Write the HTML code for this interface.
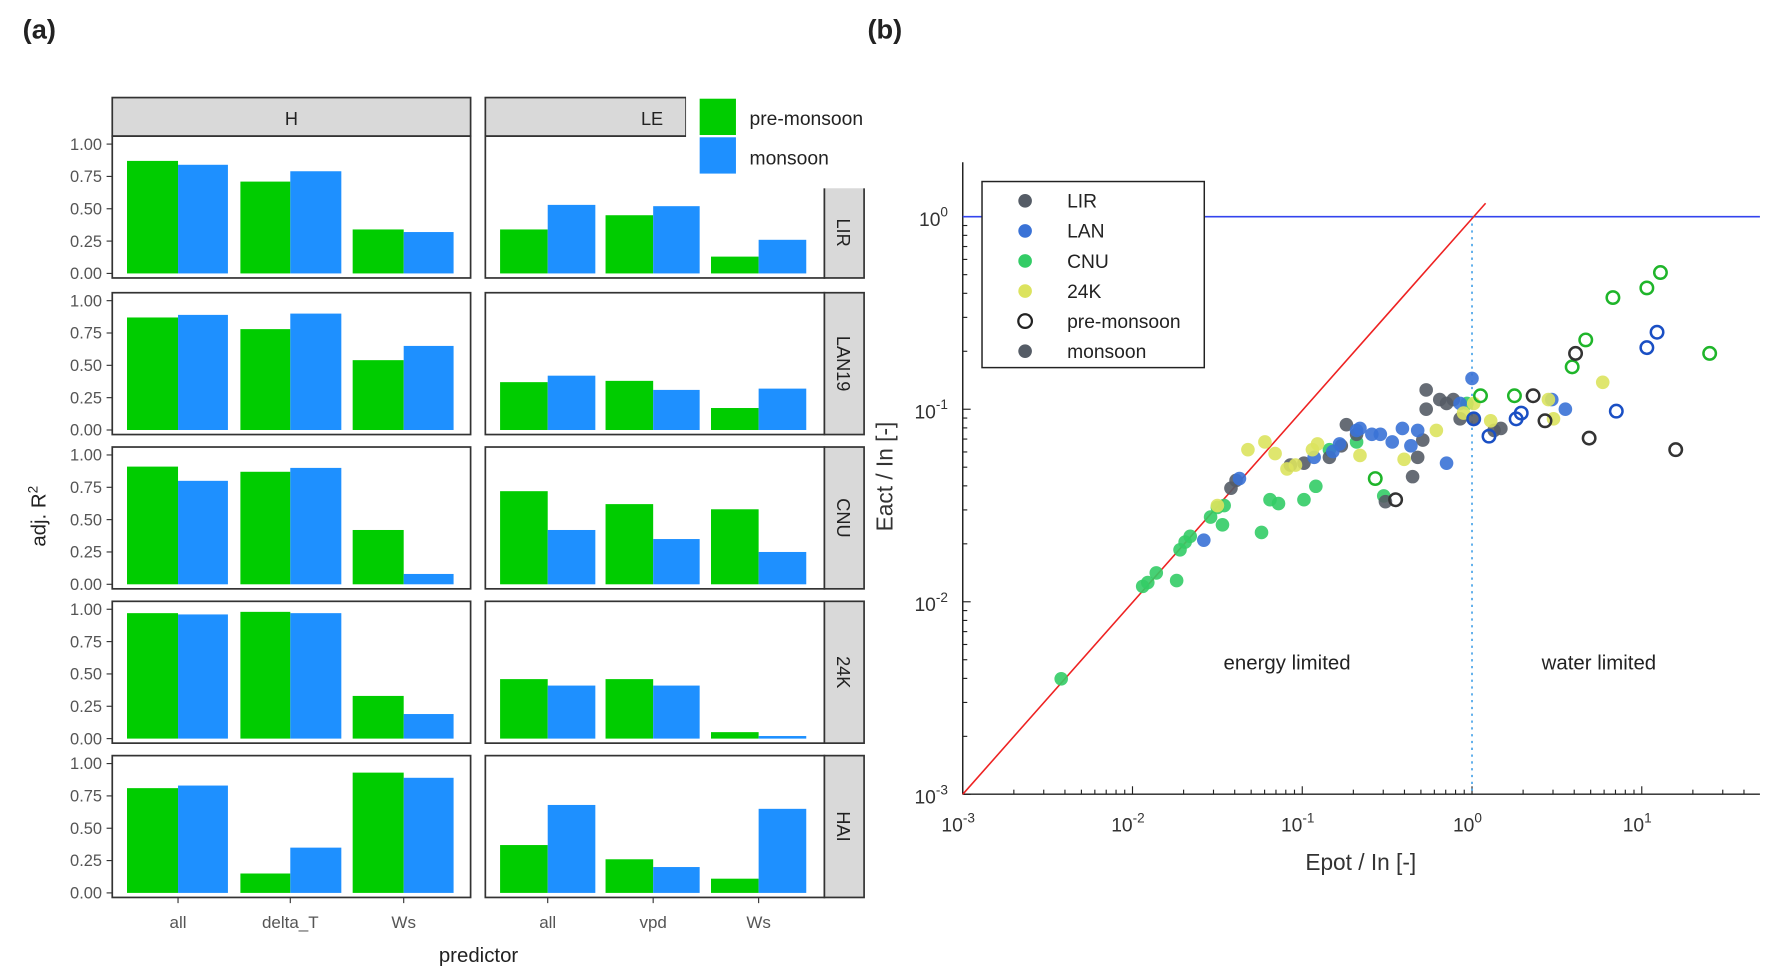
<!DOCTYPE html>
<html><head><meta charset="utf-8"><style>
html,body{margin:0;padding:0;background:#fff;}
svg{display:block;font-family:"Liberation Sans",sans-serif;}
</style></head><body>
<svg id="fig" width="1769" height="978" viewBox="0 0 1560 862" preserveAspectRatio="none" xmlns="http://www.w3.org/2000/svg">
<text x="20" y="34" font-size="24" font-weight="bold" fill="#222">(a)</text>
<text x="765" y="34" font-size="24" font-weight="bold" fill="#222">(b)</text>
<g id="pa"></g>
<g id="pb"></g>
</svg>
<script>
// ---------- Panel (a) data ----------
const sites = ["LIR","LAN19","CNU","24K","HAI"];
const hPredictors = ["all","delta_T","Ws"];
const lePredictors = ["all","vpd","Ws"];
const yTicks = ["0.00","0.25","0.50","0.75","1.00"];
const hPre = [[0.87,0.71,0.34],[0.87,0.78,0.54],[0.91,0.87,0.42],[0.97,0.98,0.33],[0.81,0.15,0.93]];
const hMon = [[0.84,0.79,0.32],[0.89,0.90,0.65],[0.80,0.90,0.08],[0.96,0.97,0.19],[0.83,0.35,0.89]];
const lePre = [[0.34,0.45,0.13],[0.37,0.38,0.17],[0.72,0.62,0.58],[0.46,0.46,0.05],[0.37,0.26,0.11]];
const leMon = [[0.53,0.52,0.26],[0.42,0.31,0.32],[0.42,0.35,0.25],[0.41,0.41,0.02],[0.68,0.20,0.65]];

// ---------- Panel (b) data (log10 values) ----------
const lirX = [-1.42,-1.39,-1.07,-0.99,-0.84,-0.77,-0.68,-0.74,-0.35,-0.32,-0.29,-0.27,-0.27,-0.19,-0.15,-0.11,-0.07,0.01,-0.51,0.13,0.17];
const lirY = [-1.41,-1.37,-1.29,-1.28,-1.25,-1.19,-1.13,-1.08,-1.35,-1.25,-1.16,-1.00,-0.90,-0.95,-0.97,-0.95,-1.05,-1.05,-1.48,-1.11,-1.10];
const lanX = [-1.58,-1.37,-0.93,-0.82,-0.78,-0.68,-0.66,-0.59,-0.54,-0.47,-0.41,-0.36,-0.32,-0.15,-0.07,0.00,0.47,0.55];
const lanY = [-1.68,-1.36,-1.25,-1.22,-1.18,-1.11,-1.10,-1.13,-1.13,-1.17,-1.10,-1.19,-1.11,-1.28,-0.97,-0.84,-0.95,-1.00];
const cnuX = [-2.42,-1.94,-1.91,-1.86,-1.74,-1.72,-1.69,-1.66,-1.54,-1.50,-1.47,-1.46,-1.24,-1.19,-1.14,-0.99,-0.92,-0.84,-0.68,-0.03,-0.52];
const cnuY = [-2.40,-1.92,-1.90,-1.85,-1.89,-1.73,-1.69,-1.66,-1.56,-1.51,-1.60,-1.50,-1.64,-1.47,-1.49,-1.47,-1.40,-1.21,-1.17,-0.97,-1.45];
const k24X = [-1.50,-1.32,-1.22,-1.16,-1.09,-1.04,-0.94,-0.91,-0.66,-0.40,-0.21,-0.05,0.01,0.11,0.45,0.48,0.77];
const k24Y = [-1.50,-1.21,-1.17,-1.23,-1.31,-1.29,-1.21,-1.18,-1.24,-1.26,-1.11,-1.02,-0.97,-1.06,-0.95,-1.05,-0.86];
const openGreenX = [-0.57,0.05,0.25,0.59,0.67,0.83,1.03,1.11,1.40];
const openGreenY = [-1.36,-0.93,-0.93,-0.78,-0.64,-0.42,-0.37,-0.29,-0.71];
const openBlueX = [0.01,0.10,0.26,0.29,0.85,1.03,1.09];
const openBlueY = [-1.05,-1.14,-1.05,-1.02,-1.01,-0.68,-0.60];
const openBlackX = [-0.45,0.36,0.43,0.61,0.69,1.20];
const openBlackY = [-1.47,-0.93,-1.06,-0.71,-1.15,-1.21];
const xTickExp = ["-3","-2","-1","0","1"];
const yTickExp = ["-3","-2","-1","0"];

const NS="http://www.w3.org/2000/svg";
function mk(parent,tag,attrs,text){const e=document.createElementNS(NS,tag);for(const k in attrs)e.setAttribute(k,attrs[k]);if(text!==undefined)e.textContent=text;parent.appendChild(e);return e;}

// ---------- Panel (a) ----------
const pa=document.getElementById('pa');
const rowTops=[120,258,394,530,666];
const rowH=125;
function yBar(T,v){return T+121-v*114;}
const colH={x0:99,x1:415,groups:[[112,157,201],[212,256,301],[311,356,400]]};
const colLE={x0:428,x1:727,groups:[[441,483,525],[534,576,617],[627,669,711]]};
let s=mk(pa,'rect',{x:99,y:86,width:316,height:34,fill:'#d9d9d9',stroke:'#333','stroke-width':1.5});

let t=mk(pa,'text',{x:257,y:110,'font-size':16,'text-anchor':'middle',fill:'#222'},'H');

s=mk(pa,'rect',{x:428,y:86,width:177,height:34,fill:'#d9d9d9',stroke:'#333','stroke-width':1.5});

t=mk(pa,'text',{x:575,y:110,'font-size':16,'text-anchor':'middle',fill:'#222'},'LE');


sites.forEach((site,r)=>{
  const T=rowTops[r];
  [[colH,hPre,hMon],[colLE,lePre,leMon]].forEach(([col,pre,mon],ci)=>{
    const fr=mk(pa,'rect',{x:col.x0,y:T,width:col.x1-col.x0,height:rowH,fill:'#fff',stroke:'#333','stroke-width':1.5});
    
    col.groups.forEach((g,gi)=>{
      const b1=mk(pa,'rect',{x:g[0],y:yBar(T,pre[r][gi]),width:g[1]-g[0],height:yBar(T,0)-yBar(T,pre[r][gi]),fill:'#00cc00'});
      
      const b2=mk(pa,'rect',{x:g[1],y:yBar(T,mon[r][gi]),width:g[2]-g[1],height:yBar(T,0)-yBar(T,mon[r][gi]),fill:'#1e90ff'});
      
    });
  });
  yTicks.forEach((lab,i)=>{
    const y=yBar(T,i*0.25);
    const tk=mk(pa,'line',{x1:94,x2:99,y1:y,y2:y,stroke:'#333','stroke-width':1});
    
    const tl=mk(pa,'text',{x:90,y:y+5,'font-size':14.5,'text-anchor':'end',fill:'#555'},lab);
    
  });
  const sy = r===0?165:T;
  const sh = r===0?T+rowH-165:rowH;
  const st=mk(pa,'rect',{x:727,y:sy,width:35,height:sh,fill:'#d9d9d9',stroke:'#333','stroke-width':1.5});
  
  const cy=sy+sh/2;
  const sl=mk(pa,'text',{x:738,y:cy,'font-size':16,'text-anchor':'middle',fill:'#222',transform:`rotate(90 738 ${cy})`},site);
  
});
[[colH,hPredictors],[colLE,lePredictors]].forEach(([col,preds])=>{
  col.groups.forEach((g,gi)=>{
    const tk=mk(pa,'line',{x1:g[1],x2:g[1],y1:791,y2:796,stroke:'#333'});
    
    const tl=mk(pa,'text',{x:g[1],y:818,'font-size':15,'text-anchor':'middle',fill:'#555'},preds[gi]);
    
  });
});
t=mk(pa,'text',{x:422,y:848,'font-size':18,'text-anchor':'middle',fill:'#222'},'predictor');

t=mk(pa,'text',{x:40,y:455,'font-size':18,'text-anchor':'middle',fill:'#222',transform:'rotate(-90 40 455)'},'adj. R');

mk(t,'tspan',{dy:-7,'font-size':12},'2');
let lg=mk(pa,'rect',{x:605,y:84,width:180,height:82,fill:'#fff'});

lg=mk(pa,'rect',{x:617,y:87,width:32,height:32,fill:'#00cc00'});

lg=mk(pa,'rect',{x:617,y:121,width:32,height:32,fill:'#1e90ff'});

lg=mk(pa,'text',{x:661,y:110,'font-size':17,fill:'#222'},'pre-monsoon');

lg=mk(pa,'text',{x:661,y:145,'font-size':17,fill:'#222'},'monsoon');


// ---------- Panel (b) ----------
const pb=document.getElementById('pb');
const X0=849, XD=149.7, Y0=191, YD=169.7;
function px(l){return X0+(l+3)*XD;}
function py(l){return Y0-l*YD;}
let a=mk(pb,'line',{x1:849,x2:849,y1:143,y2:700,stroke:'#222','stroke-width':1.3});

a=mk(pb,'line',{x1:849,x2:1552,y1:700,y2:700,stroke:'#222','stroke-width':1.3});

for(let d=-3;d<=1;d++){for(let m=1;m<10;m++){const l=d+Math.log10(m);const x=px(l);if(x>1552)break;
  const tk=mk(pb,'line',{x1:x,x2:x,y1:700,y2:m===1?693:696,stroke:'#222'});
  }}
for(let d=-3;d<=0;d++){for(let m=1;m<10;m++){const l=d+Math.log10(m);const y=py(l);if(y<143)break;
  const tk=mk(pb,'line',{x1:849,x2:m===1?856:853,y1:y,y2:y,stroke:'#222'});
  }}
xTickExp.forEach(e=>{const x=px(+e);
  const tl=mk(pb,'text',{x:x-4,y:733,'font-size':17,'text-anchor':'middle',fill:'#333'},'10');
  
  mk(tl,'tspan',{dy:-8,'font-size':12},e);});
yTickExp.forEach(e=>{const y=py(+e);
  const tl=mk(pb,'text',{x:836,y:y+8,'font-size':17,'text-anchor':'end',fill:'#333'},'10');
  
  mk(tl,'tspan',{dy:-8,'font-size':12},e);});
a=mk(pb,'line',{x1:849,x2:1552,y1:py(0),y2:py(0),stroke:'#3344ee','stroke-width':1.5});

a=mk(pb,'line',{x1:px(0),x2:px(0),y1:py(0),y2:700,stroke:'#4aa3e8','stroke-width':1.5,'stroke-dasharray':'2 4'});

a=mk(pb,'line',{x1:px(-3),x2:px(0.08),y1:py(-3),y2:py(0.07),stroke:'#ee2222','stroke-width':1.4});

function pts(xs,ys,fill,stroke,name){xs.forEach((x,i)=>{
  const c=mk(pb,'circle',{cx:px(x),cy:py(ys[i]),r:fill==='none'?5.5:6,fill:fill,stroke:stroke,'stroke-width':fill==='none'?2.2:0,opacity:fill==='none'?1:0.9});
  });}
pts(cnuX,cnuY,'#33cc66','none','point-cnu');
pts(lirX,lirY,'#555c66','none','point-lir');
pts(lanX,lanY,'#3a72d6','none','point-lan');
pts(k24X,k24Y,'#dce35e','none','point-24k');
pts(openGreenX,openGreenY,'none','#1fb52a','point-cnu-pre-monsoon');
pts(openBlueX,openBlueY,'none','#1a4fc4','point-lan-pre-monsoon');
pts(openBlackX,openBlackY,'none','#333','point-lir-pre-monsoon');
t=mk(pb,'text',{x:1135,y:590,'font-size':18,'text-anchor':'middle',fill:'#222'},'energy limited');

t=mk(pb,'text',{x:1410,y:590,'font-size':18,'text-anchor':'middle',fill:'#222'},'water limited');

t=mk(pb,'text',{x:1200,y:767,'font-size':20,'text-anchor':'middle',fill:'#333'},'Epot / In [-]');

t=mk(pb,'text',{x:787,y:420,'font-size':20,'text-anchor':'middle',fill:'#333',transform:'rotate(-90 787 420)'},'Eact / In [-]');

const L=mk(pb,'rect',{x:866,y:160,width:196,height:164,fill:'#fff',stroke:'#222','stroke-width':1.3});

const legLabels=["LIR","LAN","CNU","24K","pre-monsoon","monsoon"];
const legFill=["#555c66","#3a72d6","#33cc66","#dce35e","none","#555c66"];
legLabels.forEach((lab,i)=>{const y=177+i*26.5;
  const c=mk(pb,'circle',{cx:904,cy:y,r:6,fill:legFill[i],stroke:legFill[i]==='none'?'#222':'none','stroke-width':2});
  
  const tl=mk(pb,'text',{x:941,y:y+6,'font-size':17,fill:'#222'},lab);
  });
</script>
</body></html>
